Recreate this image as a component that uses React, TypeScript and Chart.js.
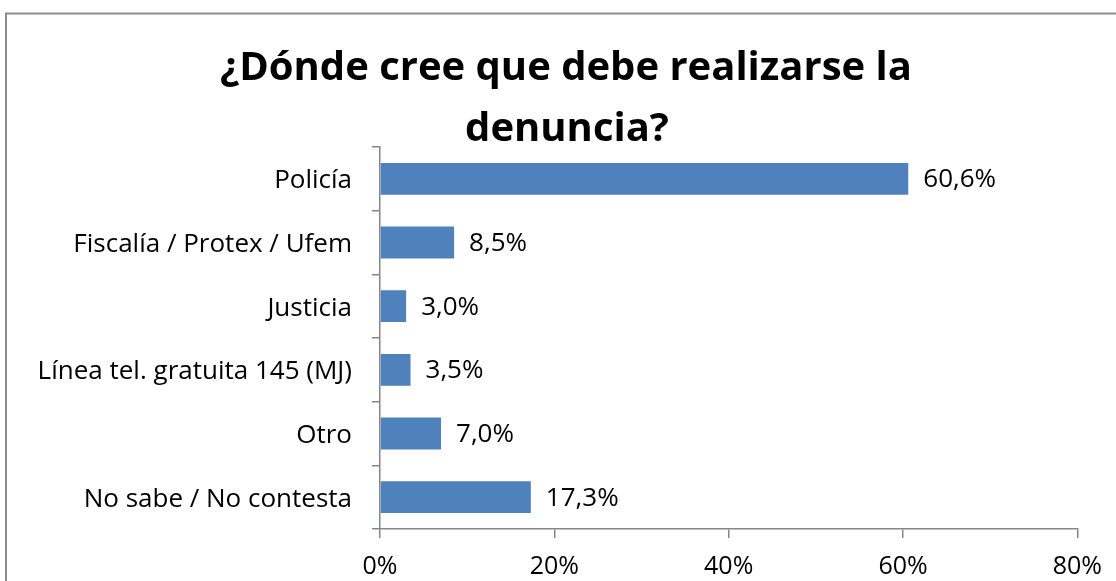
import React, { useEffect, useRef } from "react";
import { Chart, registerables } from "chart.js";

Chart.register(...registerables);

const categories = [
  "Policía",
  "Fiscalía / Protex / Ufem",
  "Justicia",
  "Línea tel. gratuita 145 (MJ)",
  "Otro",
  "No sabe / No contesta",
];
const values = [60.6, 8.5, 3.0, 3.5, 7.0, 17.3];
const valueLabels = ["60,6%", "8,5%", "3,0%", "3,5%", "7,0%", "17,3%"];
const titleLines = ["¿Dónde cree que debe realizarse la", "denuncia?"];
const xTicks = [0, 20, 40, 60, 80];

const FONT = "'Open Sans', Lato, sans-serif";

export default function App() {
  const ref = useRef<HTMLCanvasElement | null>(null);
  useEffect(() => {
    document.body.style.margin = "0";
    const canvas = ref.current!;
    const framePlugin = {
      id: "framePlugin",
      beforeDraw(chart: any) {
        const ctx = chart.ctx;
        ctx.save();
        ctx.fillStyle = "#ffffff";
        ctx.fillRect(0, 0, chart.width, chart.height);
        ctx.strokeStyle = "#8c8c8c";
        ctx.lineWidth = 2;
        ctx.beginPath();
        ctx.moveTo(6, chart.height + 5);
        ctx.lineTo(6, 13.5);
        ctx.lineTo(chart.width + 5, 13.5);
        ctx.stroke();
        ctx.fillStyle = "#000000";
        ctx.font = `bold 40px ${FONT}`;
        ctx.textAlign = "center";
        ctx.textBaseline = "alphabetic";
        ctx.fillText(titleLines[0], 566, 80);
        ctx.fillText(titleLines[1], 567, 141);
        ctx.restore();
      },
      afterDatasetsDraw(chart: any) {
        const ctx = chart.ctx;
        const meta = chart.getDatasetMeta(0);
        ctx.save();
        ctx.fillStyle = "#000000";
        ctx.font = `26px ${FONT}`;
        ctx.textAlign = "left";
        ctx.textBaseline = "middle";
        meta.data.forEach((el: any, i: number) => {
          ctx.fillText(valueLabels[i], el.x + 15, el.y + 1);
        });
        ctx.restore();
      },
    };
    const chart = new Chart(canvas, {
      type: "bar",
      data: {
        labels: categories,
        datasets: [
          {
            data: values,
            backgroundColor: "#4f81bd",
            borderWidth: 0,
            barPercentage: 0.5,
            categoryPercentage: 1,
          },
        ],
      },
      options: {
        indexAxis: "y",
        animation: false,
        responsive: false,
        maintainAspectRatio: false,
        layout: { autoPadding: false, padding: { top: 147, right: 37, bottom: 0, left: 0 } },
        plugins: {
          legend: { display: false },
          title: { display: false },
          tooltip: { enabled: false },
        },
        scales: {
          x: {
            min: 0,
            max: 80,
            afterFit(scale: any) {
              scale.height = 52;
            },
            afterBuildTicks(scale: any) {
              scale.ticks = xTicks.map((v) => ({ value: v }));
            },
            ticks: {
              callback: (v: any) => v + "%",
              color: "#000000",
              font: { family: FONT, size: 25 },
              padding: 14,
              maxRotation: 0,
            },
            grid: {
              drawOnChartArea: false,
              drawTicks: true,
              tickLength: 9,
              color: "#868686",
              lineWidth: 1.5,
            },
            border: { display: true, color: "#868686", width: 1.5 },
          },
          y: {
            afterFit(scale: any) {
              scale.width = 380;
            },
            ticks: {
              color: "#000000",
              font: { family: FONT, size: 26 },
              padding: 20,
              labelOffset: 2,
            },
            grid: {
              offset: true,
              drawOnChartArea: false,
              drawTicks: true,
              tickLength: 8,
              color: "#868686",
              lineWidth: 1.5,
            },
            border: { display: true, color: "#868686", width: 1.5 },
          },
        },
      },
      plugins: [framePlugin],
    });
    return () => chart.destroy();
  }, []);
  return (
    <div style={{ position: "absolute", left: 0, top: 0, width: 1116, height: 581 }}>
      <canvas ref={ref} width={1116} height={581} style={{ display: "block" }} />
    </div>
  );
}
